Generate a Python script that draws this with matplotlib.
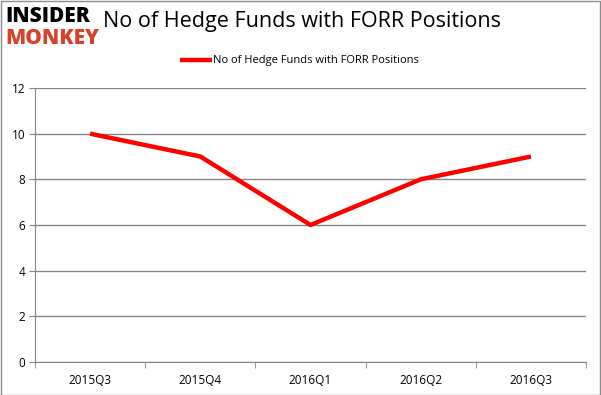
import matplotlib
matplotlib.use('Agg')
import matplotlib.pyplot as plt
from matplotlib.patches import Rectangle

# Chart data
quarters = ['2015Q3', '2015Q4', '2016Q1', '2016Q2', '2016Q3']
num_funds = [10, 9, 6, 8, 9]
series_name = 'No of Hedge Funds with FORR Positions'

plt.rcParams['font.family'] = ['Open Sans', 'DejaVu Sans']

fig = plt.figure(figsize=(6.01, 3.95), dpi=100)
ax = fig.add_axes([35 / 601, 1 - 362 / 395, 551 / 601, 274 / 395])

x = list(range(len(quarters)))
ax.plot(x, num_funds, color='#ff0000', linewidth=3.2, label=series_name,
        solid_capstyle='butt')

ax.set_xlim(-0.5, len(quarters) - 0.5)
ax.set_ylim(0, 12)
ax.set_yticks(range(0, 13, 2))
ax.set_xticks(x)
ax.set_xticklabels(quarters)
ax.set_xticks([i + 0.5 for i in range(-1, len(quarters))], minor=True)

grid_color = '#868686'
ax.yaxis.grid(True, color=grid_color, linewidth=1)
ax.set_axisbelow(True)
for side in ['top', 'right']:
    ax.spines[side].set_visible(False)
for side in ['left', 'bottom']:
    ax.spines[side].set_color(grid_color)
ax.tick_params(axis='x', which='major', length=0, pad=9, labelsize=8.5)
ax.tick_params(axis='x', which='minor', length=4, color=grid_color)
ax.tick_params(axis='y', length=4, color=grid_color, labelsize=8.5, pad=3)

# Title and legend
fig.text(302 / 601, 1 - 22 / 395, series_name, ha='center', va='center',
         fontsize=15.5)
ax.legend(loc='center', bbox_to_anchor=(0.48, 1 + 27 / 274), frameon=False,
          fontsize=8, handlelength=2.8, handletextpad=0.1)

# Logo
fig.text(5 / 601, 1 - 17 / 395, 'INSIDER', fontsize=15, fontweight='heavy',
         color='black', va='center', ha='left')
fig.text(5 / 601, 1 - 39 / 395, 'MONKEY', fontsize=15, fontweight='heavy',
         color='#d9412a', va='center', ha='left')

# Outer border
fig.patches.append(Rectangle((0.5 / 601, 0.5 / 395), 599 / 601, 393.5 / 395,
                             transform=fig.transFigure, fill=False,
                             edgecolor='#8c8c8c', linewidth=1))

fig.savefig('out.png', dpi=100, facecolor='white')
